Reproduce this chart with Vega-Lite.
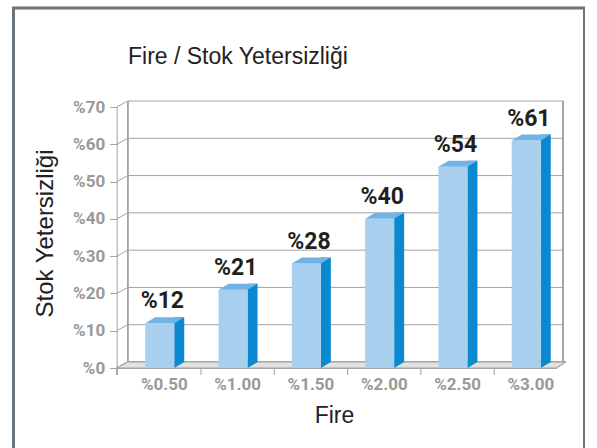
{
  "$schema": "https://vega.github.io/schema/vega-lite/v6.json",
  "width": 571,
  "height": 445,
  "autosize": {"type": "none"},
  "padding": {"left": 13.5, "top": 8, "right": 0, "bottom": 0},
  "background": "#ffffff",
  "config": {
    "view": {"stroke": "#6b747b", "strokeWidth": 3, "fill": "#ffffff"}
  },
  "title": {
    "text": "Fire / Stok Yetersizliği",
    "anchor": "start",
    "frame": "group",
    "orient": "top",
    "offset": 0,
    "dx": 114.5,
    "dy": 79,
    "baseline": "alphabetic",
    "font": "Liberation Sans",
    "fontSize": 23,
    "fontWeight": "normal",
    "color": "#222222"
  },
  "datasets": {
    "bars": [
      {"fire": "%0.50", "value": 12},
      {"fire": "%1.00", "value": 21},
      {"fire": "%1.50", "value": 28},
      {"fire": "%2.00", "value": 40},
      {"fire": "%2.50", "value": 54},
      {"fire": "%3.00", "value": 61}
    ],
    "grid": [
      {"v": 10}, {"v": 20}, {"v": 30}, {"v": 40}, {"v": 50}, {"v": 60}, {"v": 70}
    ]
  },
  "data": {"name": "bars"},
  "resolve": {"scale": {"x": "shared", "y": "shared"}},
  "layer": [
    {
      "mark": {"type": "point", "shape": "M -47.6 0 L 392 0 L 401 -6 L -36.6 -6 Z M -47.6 0 L -47.6 7", "size": 4, "filled": false, "fill": "#e1e1e1", "stroke": "#a3a3a3", "strokeWidth": 1, "opacity": 1},
      "encoding": {
        "x": {"datum": "%0.50", "type": "nominal", "scale": {"type": "band", "domain": ["%0.50", "%1.00", "%1.50", "%2.00", "%2.50", "%3.00"], "range": [114.2, 554], "paddingInner": 0, "paddingOuter": 0},
          "axis": {"title": "Fire", "orient": "bottom", "offset": -85, "domain": false, "ticks": false, "tickSize": 0, "grid": false, "labelAngle": 0, "labelPadding": 8, "labelFont": "Roboto", "labelFontWeight": "bold", "labelFontSize": 17, "labelColor": "#999999", "titleFont": "Liberation Sans", "titleFontWeight": "normal", "titleFontSize": 23, "titleColor": "#222222", "titleX": 320.5, "titleY": 54, "titleAlign": "center", "titleBaseline": "alphabetic"}},
        "y": {"datum": 0, "type": "quantitative", "scale": {"domain": [0, 70], "range": [360, 99], "nice": false, "zero": true},
          "axis": {"title": "Stok Yetersizliği", "orient": "left", "offset": -103.2, "values": [0, 10, 20, 30, 40, 50, 60, 70], "labelExpr": "'%' + datum.value", "domain": true, "domainColor": "#a3a3a3", "ticks": true, "tickSize": 7, "tickColor": "#a3a3a3", "grid": false, "labelPadding": 5, "labelFont": "Roboto", "labelFontWeight": "bold", "labelFontSize": 17, "labelColor": "#999999", "titleFont": "Liberation Sans", "titleFontWeight": "normal", "titleFontSize": 24, "titleColor": "#222222", "titleAngle": -90, "titleX": -71.7, "titleY": 225, "titleAlign": "center", "titleBaseline": "middle"}}
      }
    },
    {
      "data": {"name": "grid"},
      "mark": {"type": "point", "shape": "M -47.6 0 L -36.6 -6 L 398.6 -6", "size": 4, "filled": false, "fill": null, "stroke": "#a3a3a3", "strokeWidth": 1, "opacity": 1},
      "encoding": {
        "x": {"datum": "%0.50", "type": "nominal"},
        "y": {"field": "v", "type": "quantitative"}
      }
    },
    {
      "mark": {"type": "rule", "color": "#a3a3a3", "strokeWidth": 1, "xOffset": -36.6, "yOffset": -6, "y2Offset": -6},
      "encoding": {
        "x": {"datum": "%0.50", "type": "nominal"},
        "y": {"datum": 0, "type": "quantitative"},
        "y2": {"datum": 70}
      }
    },
    {
      "mark": {"type": "rule", "color": "#a3a3a3", "strokeWidth": 1, "xOffset": 398.6, "yOffset": -6, "y2Offset": -6},
      "encoding": {
        "x": {"datum": "%0.50", "type": "nominal"},
        "y": {"datum": 0, "type": "quantitative"},
        "y2": {"datum": 70}
      }
    },
    {
      "transform": [{"filter": "datum.fire != '%0.50'"}],
      "mark": {"type": "rule", "color": "#a3a3a3", "strokeWidth": 1, "y2Offset": 7},
      "encoding": {
        "x": {"field": "fire", "type": "nominal", "bandPosition": 0},
        "y": {"datum": 0, "type": "quantitative"},
        "y2": {"datum": 0}
      }
    },
    {
      "mark": {"type": "bar", "size": 10, "xOffset": 14.9, "yOffset": -6, "y2Offset": -6, "color": "#0a89d1"},
      "encoding": {
        "x": {"field": "fire", "type": "nominal"},
        "y": {"field": "value", "type": "quantitative"},
        "y2": {"datum": 0}
      }
    },
    {
      "mark": {"type": "point", "shape": "M 9.9 -6 L 9.9 0 L 19.9 -6 Z", "size": 4, "filled": true, "color": "#0a89d1", "strokeWidth": 0, "opacity": 1},
      "encoding": {
        "x": {"field": "fire", "type": "nominal"},
        "y": {"datum": 0, "type": "quantitative"}
      }
    },
    {
      "mark": {"type": "bar", "size": 29, "xOffset": -4.6, "color": "#a9cfef"},
      "encoding": {
        "x": {"field": "fire", "type": "nominal"},
        "y": {"field": "value", "type": "quantitative"}
      }
    },
    {
      "mark": {"type": "point", "shape": "M -19.1 0 L 9.9 0 L 19.9 -6 L -9.1 -6 Z", "size": 4, "filled": true, "color": "#6fb4e5", "strokeWidth": 0, "opacity": 1},
      "encoding": {
        "x": {"field": "fire", "type": "nominal"},
        "y": {"field": "value", "type": "quantitative"}
      }
    },
    {
      "mark": {"type": "text", "text": {"expr": "'%' + datum.value"}, "font": "Roboto", "fontWeight": "bold", "fontSize": 23, "color": "#231f20", "align": "center", "baseline": "alphabetic", "dy": -15, "xOffset": -2},
      "encoding": {
        "x": {"field": "fire", "type": "nominal"},
        "y": {"field": "value", "type": "quantitative"}
      }
    }
  ]
}
